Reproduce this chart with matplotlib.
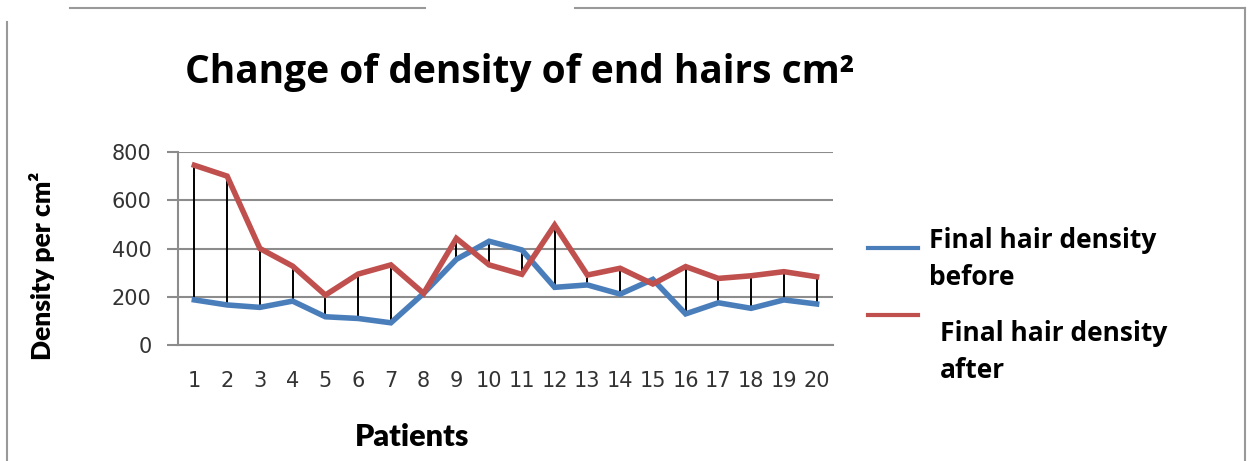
import matplotlib
matplotlib.use("Agg")
import matplotlib.pyplot as plt
from matplotlib.lines import Line2D

# density per cm2 for each of the 20 patients
patients = list(range(1, 21))
before = [187, 166, 156, 182, 117, 110, 92, 214, 355, 430,
          394, 239, 249, 211, 272, 129, 175, 152, 187, 170]
after = [745, 700, 400, 327, 207, 294, 332, 214, 442, 332,
         293, 497, 290, 318, 253, 325, 276, 287, 304, 283]

BLUE = "#4a7ebb"
RED = "#c0504d"
GRID = "#8c8c8c"
W, H = 1251, 461

fig = plt.figure(figsize=(W / 100, H / 100), dpi=100)
fig.patch.set_facecolor("white")
ax = fig.add_axes([178 / W, 1 - 345 / H, (833 - 178) / W, (345 - 152) / H])

# high-low lines joining before and after for each patient
ax.vlines(patients, before, after, color="black", linewidth=1.4, zorder=2)
ax.plot(patients, before, color=BLUE, linewidth=4, solid_joinstyle="miter", zorder=3)
ax.plot(patients, after, color=RED, linewidth=4, solid_joinstyle="miter", zorder=3)

ax.set_xlim(0.5, 20.5)
ax.set_ylim(0, 800)
ax.set_yticks([0, 200, 400, 600, 800])
ax.set_xticks(patients)
ax.grid(axis="y", color=GRID, linewidth=1.5)
ax.set_axisbelow(True)
for s in ("top", "right"):
    ax.spines[s].set_visible(False)
for s in ("left", "bottom"):
    ax.spines[s].set_color(GRID)
    ax.spines[s].set_linewidth(1.5)
ax.tick_params(axis="y", length=8, width=1.5, color=GRID, pad=11)
ax.tick_params(axis="x", length=0, pad=19)
for lab in ax.get_xticklabels() + ax.get_yticklabels():
    lab.set_fontfamily("DejaVu Sans")
    lab.set_fontsize(15)
    lab.set_color("#333333")

fig.text(520 / W, 1 - 72 / H, "Change of density of end hairs cm²",
         family="Open Sans", fontweight="bold", fontsize=28, ha="center", va="center")
fig.text(42 / W, 1 - 266 / H, "Density per cm²", rotation=90,
         family="Lato", fontweight="heavy", fontsize=19, ha="center", va="center")
fig.text(412 / W, 1 - 437 / H, "Patients",
         family="Lato", fontweight="heavy", fontsize=22, ha="center", va="center")

# legend entries
fig.add_artist(Line2D([868 / W, 918 / W], [1 - 248 / H] * 2, color=BLUE, linewidth=3))
fig.add_artist(Line2D([868 / W, 918 / W], [1 - 315 / H] * 2, color=RED, linewidth=3))
fig.text(929 / W, 1 - 259 / H, "Final hair density\nbefore", family="Open Sans",
         fontweight="bold", fontsize=19, ha="left", va="center", linespacing=1.45)
fig.text(940 / W, 1 - 352 / H, "Final hair density\nafter", family="Open Sans",
         fontweight="bold", fontsize=19, ha="left", va="center", linespacing=1.45)

# outer chart frame
fc = "#999999"
for xs, ys in [([7, 7], [22, H]), ([1245, 1245], [8, H]),
               ([70, 425], [8, 8]), ([575, 1245], [8, 8])]:
    fig.add_artist(Line2D([x / W for x in xs], [1 - y / H for y in ys],
                          color=fc, linewidth=1.5))

fig.savefig("out.png", dpi=100)
